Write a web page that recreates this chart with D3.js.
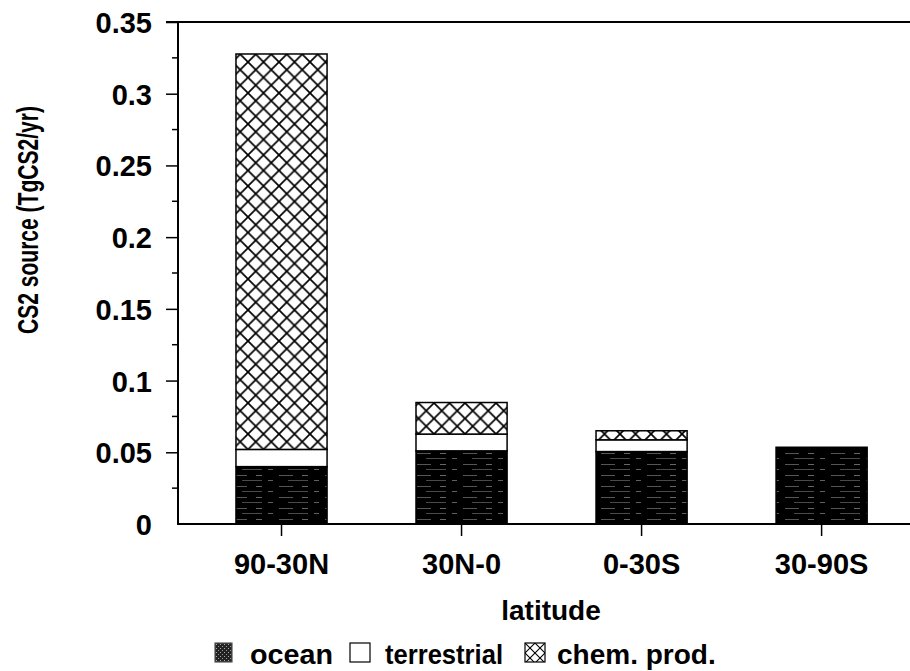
<!DOCTYPE html>
<html>
<head>
<meta charset="utf-8">
<script src="https://cdn.jsdelivr.net/npm/d3@7"></script>
<style>
  html, body { margin: 0; padding: 0; background: #fff; }
  svg { display: block; }
  text { font-family: "Liberation Sans", Arial, Helvetica, sans-serif; font-weight: bold; fill: #000; }
</style>
</head>
<body>
<svg id="chart" width="910" height="671"></svg>
<script>
// ---------- data ----------
const categories = ["90-30N", "30N-0", "0-30S", "30-90S"];
const ocean       = [0.0400, 0.0510, 0.0505, 0.0535];
const terrestrial = [0.0120, 0.0117, 0.0082, 0.0000];
const chemProd    = [0.2757, 0.0220, 0.0063, 0.0000];
const seriesNames = ["ocean", "terrestrial", "chem. prod."];
const yTickValues = [0, 0.05, 0.1, 0.15, 0.2, 0.25, 0.3, 0.35];
const yTickLabels = ["0", "0.05", "0.1", "0.15", "0.2", "0.25", "0.3", "0.35"];
const yMinorTicks = [0.025, 0.075, 0.125, 0.175, 0.225, 0.275, 0.325];
const xTitle = "latitude";
const yTitle = "CS2 source (TgCS2/yr)";

// ---------- layout ----------
const svg = d3.select("#chart");
const plotLeft = 178, plotRight = 910, plotTop = 22, plotBottom = 524;

const x = d3.scaleBand().domain(categories).range([plotLeft, plotRight])
  .paddingInner(0.494).paddingOuter(0.28).align(0.575);
const y = d3.scaleLinear().domain([0, 0.35]).range([plotBottom, plotTop]);

// patterns
const defs = svg.append("defs");
const oc = defs.append("pattern").attr("id", "oceanPat").attr("patternUnits", "userSpaceOnUse")
  .attr("width", 46).attr("height", 11);
oc.append("rect").attr("width", 46).attr("height", 11).attr("fill", "#000");
oc.append("rect").attr("x", 3).attr("y", 2).attr("width", 14).attr("height", 1).attr("fill", "#555");
oc.append("rect").attr("x", 26).attr("y", 2).attr("width", 6).attr("height", 1).attr("fill", "#666");
oc.append("rect").attr("x", 12).attr("y", 7).attr("width", 20).attr("height", 1).attr("fill", "#4a4a4a");
oc.append("rect").attr("x", 38).attr("y", 7).attr("width", 5).attr("height", 1).attr("fill", "#606060");

const hp = defs.append("pattern").attr("id", "hatchPat").attr("patternUnits", "userSpaceOnUse")
  .attr("width", 15.5).attr("height", 15.5);
hp.append("rect").attr("width", 15.5).attr("height", 15.5).attr("fill", "#fff");
hp.append("path").attr("d", "M-1,-1 L16.5,16.5 M16.5,-1 L-1,16.5").attr("stroke", "#000").attr("stroke-width", 1.7);

const hpSmall = defs.append("pattern").attr("id", "hatchPatSmall").attr("patternUnits", "userSpaceOnUse")
  .attr("x", 525).attr("y", 643).attr("width", 10).attr("height", 10);
hpSmall.append("rect").attr("width", 10).attr("height", 10).attr("fill", "#fff");
hpSmall.append("path").attr("d", "M-1,-1 L11,11 M11,-1 L-1,11").attr("stroke", "#000").attr("stroke-width", 1.1);

const ocSmall = defs.append("pattern").attr("id", "oceanPatSmall").attr("patternUnits", "userSpaceOnUse")
  .attr("width", 4).attr("height", 4);
ocSmall.append("rect").attr("width", 4).attr("height", 4).attr("fill", "#222");
ocSmall.append("rect").attr("x", 0).attr("y", 0).attr("width", 1).attr("height", 1).attr("fill", "#aaa");
ocSmall.append("rect").attr("x", 2).attr("y", 2).attr("width", 1).attr("height", 1).attr("fill", "#999");

const fills = ["url(#oceanPat)", "#fff", "url(#hatchPat)"];
const legendFills = ["url(#oceanPatSmall)", "#fff", "url(#hatchPatSmall)"];

// ---------- bars ----------
const rows = categories.map((c, i) => ({ cat: c, ocean: ocean[i], terrestrial: terrestrial[i], chem: chemProd[i] }));
const stack = d3.stack().keys(["ocean", "terrestrial", "chem"]);
const layers = stack(rows);

svg.append("g").selectAll("g").data(layers).join("g")
  .attr("fill", (d, i) => fills[i])
  .selectAll("rect").data(d => d.filter(v => v[1] - v[0] > 0)).join("rect")
  .attr("x", d => x(d.data.cat))
  .attr("width", x.bandwidth())
  .attr("y", d => y(d[1]))
  .attr("height", d => y(d[0]) - y(d[1]))
  .attr("stroke", "#000").attr("stroke-width", 1.5);

// ---------- axes ----------
const axisG = svg.append("g");
axisG.append("line").attr("x1", plotLeft).attr("x2", plotLeft).attr("y1", plotTop).attr("y2", plotBottom)
  .attr("stroke", "#000").attr("stroke-width", 2);
axisG.append("line").attr("x1", plotLeft - 12).attr("x2", plotRight).attr("y1", y(0.35)).attr("y2", y(0.35))
  .attr("stroke", "#000").attr("stroke-width", 2);
axisG.append("line").attr("x1", plotLeft - 1).attr("x2", plotRight).attr("y1", plotBottom).attr("y2", plotBottom)
  .attr("stroke", "#000").attr("stroke-width", 2);

const yAxis = d3.axisLeft(y).tickValues(yTickValues).tickSize(12).tickPadding(14)
  .tickFormat((d, i) => yTickLabels[i]);
const ya = svg.append("g").attr("transform", `translate(${plotLeft},0)`).call(yAxis);
ya.select(".domain").remove();
ya.selectAll(".tick line").attr("stroke", "#000").attr("stroke-width", 1.5)
  .attr("display", d => d === 0 ? "none" : null);
ya.selectAll("text").style("font-size", "29px").attr("dy", "0.36em");

svg.append("g").selectAll("line").data(yMinorTicks).join("line")
  .attr("x1", plotLeft - 6).attr("x2", plotLeft).attr("y1", d => y(d)).attr("y2", d => y(d))
  .attr("stroke", "#000").attr("stroke-width", 1.5);

const xAxis = d3.axisBottom(x).tickSize(12).tickPadding(17);
const xa = svg.append("g").attr("transform", `translate(0,${plotBottom})`).call(xAxis);
xa.select(".domain").remove();
xa.selectAll(".tick line").attr("stroke", "#000").attr("stroke-width", 1.5);
xa.selectAll("text").style("font-size", "29px").attr("dy", "0.71em");

svg.append("text").attr("x", 551).attr("y", 620).attr("text-anchor", "middle")
  .style("font-size", "28px").text(xTitle);
svg.append("text").attr("transform", "translate(38,220) rotate(-90)").attr("text-anchor", "middle")
  .attr("textLength", 228).attr("lengthAdjust", "spacingAndGlyphs")
  .style("font-size", "29px").text(yTitle);

// ---------- legend ----------
const legendItems = [
  { name: seriesNames[0], sx: 215, tx: 250, len: 83 },
  { name: seriesNames[1], sx: 350, tx: 385, len: 118 },
  { name: seriesNames[2], sx: 525, tx: 557, len: null }
];
const lg = svg.append("g");
legendItems.forEach((d, i) => {
  lg.append("rect").attr("x", d.sx).attr("y", 643).attr("width", i === 0 ? 17 : 20).attr("height", 19)
    .attr("fill", legendFills[i]).attr("stroke", i === 0 ? "#555" : "#000").attr("stroke-width", 1.2);
  const t = lg.append("text").attr("x", d.tx).attr("y", 664).style("font-size", "28px").text(d.name);
  if (d.len) t.attr("textLength", d.len).attr("lengthAdjust", "spacingAndGlyphs");
});
</script>
</body>
</html>
